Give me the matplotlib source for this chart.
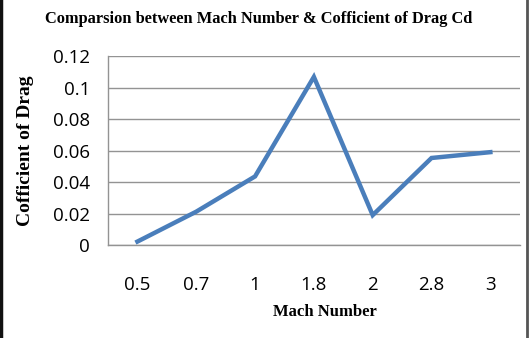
import matplotlib.pyplot as plt
from matplotlib.lines import Line2D

mach = ["0.5", "0.7", "1", "1.8", "2", "2.8", "3"]
cd = [0.0022, 0.0212, 0.0436, 0.1068, 0.0190, 0.0553, 0.0590]
yticks = [0, 0.02, 0.04, 0.06, 0.08, 0.1, 0.12]
ytick_labels = ["0", "0.02", "0.04", "0.06", "0.08", "0.1", "0.12"]

fig = plt.figure(figsize=(5.32, 3.38), dpi=100)
ax = fig.add_axes([0.203, 0.275, 0.774, 0.559])

x = list(range(len(mach)))
ax.plot(x, cd, color="#4a7ebb", lw=3.2, solid_joinstyle="miter")

ax.set_xlim(-0.5, len(mach) - 0.5)
ax.set_ylim(0, 0.12)
ax.set_yticks(yticks)
ax.set_yticklabels(ytick_labels)
ax.set_xticks(x)
ax.set_xticklabels(mach)
ax.tick_params(length=0, labelsize=13.5)
for lab in ax.get_xticklabels() + ax.get_yticklabels():
    lab.set_family("Open Sans")
ax.tick_params(axis="x", pad=22)
ax.tick_params(axis="y", pad=13)
ax.grid(axis="y", color="#939393", lw=1)
ax.set_axisbelow(True)
for s in ["top", "right"]:
    ax.spines[s].set_visible(False)
for s in ["left", "bottom"]:
    ax.spines[s].set_color("#939393")
    ax.spines[s].set_linewidth(1)

serif = {"family": "Liberation Serif", "weight": "bold"}
fig.text(0.487, 0.945, "Comparsion between Mach Number & Cofficient of Drag Cd",
         ha="center", va="center", fontsize=11.8, **serif)
fig.text(0.611, 0.077, "Mach Number", ha="center", va="center", fontsize=12, **serif)
fig.text(0.047, 0.555, "Cofficient of Drag", ha="center", va="center",
         rotation=90, fontsize=14, **serif)

# outer frame lines
fig.add_artist(Line2D([0.002, 0.002], [0, 1], color="#111111", lw=2.5))
fig.add_artist(Line2D([0.99, 0.99], [0, 1], color="#555555", lw=2))

fig.savefig("out.png", dpi=100)
